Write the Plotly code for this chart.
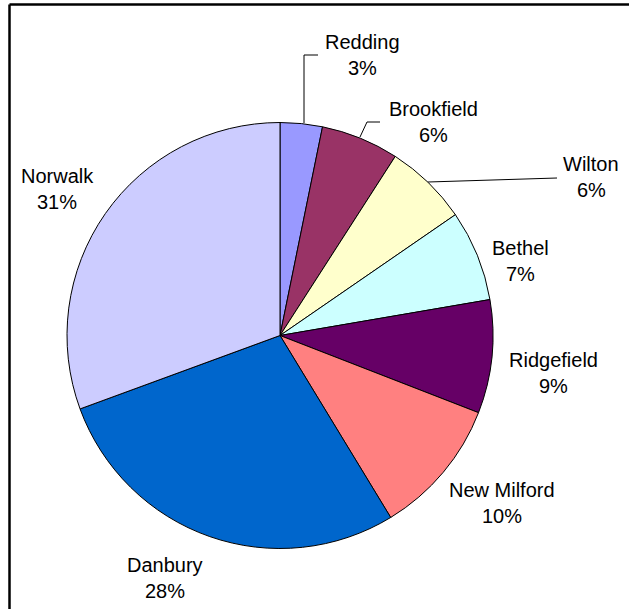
import plotly.graph_objects as go

W, H = 629, 609

towns = ["Redding", "Brookfield", "Wilton", "Bethel", "Ridgefield",
         "New Milford", "Danbury", "Norwalk"]
shares = [3.2, 5.9, 6.3, 6.9, 8.6, 10.4, 28.1, 30.6]
colors = ["#9999FF", "#993366", "#FFFFCC", "#CCFFFF", "#660066",
          "#FF8080", "#0066CC", "#CCCCFF"]

# label block centres (pixels from top-left) for outside labels
label_px = [(362, 55), (433, 122), (591, 177), (520, 261), (553, 373),
            (502, 503), (165, 578), (57, 189)]
LINE_GAP = 26.7

# leader lines (pixels)
leaders = [
    [(318, 55), (304, 55), (304, 123)],
    [(380, 122), (367, 122), (360, 137)],
    [(557, 178), (428, 182)],
]

def px(x, y):
    return x / W, 1 - y / H

total = sum(shares)
cx, cy, r = 280, 335.5, 213

fig = go.Figure(go.Pie(
    labels=towns,
    values=shares,
    sort=False,
    direction="clockwise",
    rotation=0,
    textinfo="none",
    hoverinfo="label+percent",
    marker=dict(colors=colors, line=dict(color="#000000", width=1)),
    domain=dict(x=[(cx - r) / W, (cx + r) / W],
                y=[(H - cy - r) / H, (H - cy + r) / H]),
    showlegend=False,
))

font = dict(family="Liberation Sans, Arial, sans-serif", size=20, color="#000000")
annotations = []
for name, v, (lx, ly) in zip(towns, shares, label_px):
    for txt, dy in ((name, -LINE_GAP / 2), (f"{round(v / total * 100)}%", LINE_GAP / 2)):
        x, y = px(lx, ly + dy)
        annotations.append(dict(
            x=x, y=y, xref="paper", yref="paper", showarrow=False,
            xanchor="center", yanchor="middle", text=txt, font=font,
        ))

shapes = []
for pts in leaders:
    for (x0, y0), (x1, y1) in zip(pts[:-1], pts[1:]):
        a, b = px(x0, y0)
        c, d = px(x1, y1)
        shapes.append(dict(type="line", xref="paper", yref="paper",
                           x0=a, y0=b, x1=c, y1=d,
                           line=dict(color="#000000", width=1)))

# chart frame (left and top edges visible)
shapes.append(dict(type="line", xref="paper", yref="paper",
                   x0=9.5 / W, y0=1 - 4.5 / H, x1=9.5 / W, y1=0,
                   line=dict(color="#000000", width=2.5)))
shapes.append(dict(type="line", xref="paper", yref="paper",
                   x0=9.5 / W, y0=1 - 4.5 / H, x1=1, y1=1 - 4.5 / H,
                   line=dict(color="#000000", width=2.5)))

fig.update_layout(
    width=W, height=H,
    margin=dict(l=0, r=0, t=0, b=0),
    paper_bgcolor="#FFFFFF",
    plot_bgcolor="#FFFFFF",
    annotations=annotations,
    shapes=shapes,
)

fig.write_html(
    "out.html",
    config={"displayModeBar": False},
    post_script="document.body.style.margin='0';document.body.style.overflow='hidden';",
)
